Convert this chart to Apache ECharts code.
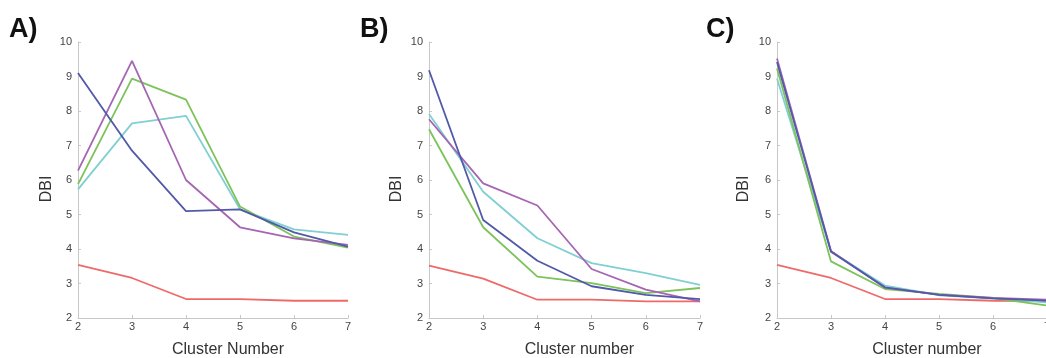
<!DOCTYPE html>
<html>
<head>
<meta charset="utf-8">
<script src="https://cdn.jsdelivr.net/npm/echarts@6/dist/echarts.min.js"></script>
<style>
	html, body { margin: 0; padding: 0; background: #fff; }
	#chart { width: 1046px; height: 358px; }
</style>
</head>
<body>
<div id="chart"></div>
<script>
// 横轴 聚类数
const clusters = [2, 3, 4, 5, 6, 7];
const yTicks = [2, 3, 4, 5, 6, 7, 8, 9, 10];

// 各面板数据
const aRed = [3.54, 3.16, 2.55, 2.55, 2.50, 2.50];
const aPurple = [6.27, 9.45, 6.00, 4.63, 4.31, 4.12];
const aGreen = [5.88, 8.94, 8.33, 5.23, 4.36, 4.04];
const aCyan = [5.73, 7.64, 7.86, 5.15, 4.57, 4.41];
const aBlue = [9.10, 6.85, 5.10, 5.15, 4.48, 4.07];

const bRed = [3.52, 3.14, 2.53, 2.53, 2.48, 2.48];
const bPurple = [7.76, 5.90, 5.26, 3.42, 2.82, 2.48];
const bGreen = [7.47, 4.63, 3.20, 3.01, 2.72, 2.87];
const bCyan = [7.91, 5.66, 4.31, 3.59, 3.30, 2.96];
const bBlue = [9.18, 4.84, 3.66, 2.92, 2.67, 2.55];

const cRed = [3.54, 3.16, 2.55, 2.55, 2.50, 2.49];
const cPurple = [9.52, 3.94, 2.88, 2.68, 2.58, 2.53];
const cGreen = [9.23, 3.64, 2.84, 2.70, 2.58, 2.36];
const cCyan = [8.94, 3.93, 2.94, 2.66, 2.57, 2.45];
const cBlue = [9.42, 3.92, 2.89, 2.67, 2.57, 2.50];

const panelLabels = ['A)', 'B)', 'C)'];
const xNames = ['Cluster Number', 'Cluster number', 'Cluster number'];

const colors = {
	red: '#ee6a68',
	purple: '#a665b3',
	green: '#7cc35a',
	cyan: '#80cfd3',
	blue: '#5159a8'
};

const panels = [
	{ red: aRed, purple: aPurple, green: aGreen, cyan: aCyan, blue: aBlue },
	{ red: bRed, purple: bPurple, green: bGreen, cyan: bCyan, blue: bBlue },
	{ red: cRed, purple: cPurple, green: cGreen, cyan: cCyan, blue: cBlue }
];

// 第三个面板右侧超出画布
const grids = [
	{ left: 78, top: 42, width: 270, height: 276 },
	{ left: 429, top: 42, width: 271, height: 276 },
	{ left: 777, top: 42, width: 270, height: 276 }
];
const labelX = [9, 360, 706];
const dbiX = [47, 397, 744];

const chart = echarts.init(document.getElementById('chart'));
const axisGray = '#c8c8c8';
const option = {
	backgroundColor: '#fff',
	animation: false,
	grid: grids.map(g => Object.assign({ containLabel: false, outerBoundsMode: 'none' }, g)),
	xAxis: grids.map((g, i) => ({
		gridIndex: i,
		type: 'value',
		min: 2,
		max: 7,
		interval: 1,
		name: xNames[i],
		nameLocation: 'middle',
		nameGap: 24,
		nameTextStyle: { fontSize: 16, color: '#333', fontFamily: 'Liberation Sans', padding: [0, 0, 0, 30] },
		axisLine: { show: true, onZero: false, lineStyle: { color: axisGray, width: 1 } },
		axisTick: { show: true, inside: true, length: 3, lineStyle: { color: axisGray } },
		axisLabel: { fontSize: 11, color: '#444', margin: 3, fontFamily: 'Liberation Sans', showMaxLabel: true },
		splitLine: { show: false }
	})),
	yAxis: grids.map((g, i) => ({
		gridIndex: i,
		type: 'value',
		min: 2,
		max: 10,
		interval: 1,
		axisLine: { show: true, onZero: false, lineStyle: { color: axisGray, width: 1 } },
		axisTick: { show: true, inside: true, length: 3, lineStyle: { color: axisGray } },
		axisLabel: { fontSize: 11, color: '#444', margin: 6, fontFamily: 'Liberation Sans' },
		splitLine: { show: false }
	})),
	graphic: [],
	series: []
};

// 面板标签 与 DBI 纵轴名
for (let i = 0; i < 3; i++) {
	option.graphic.push({
		type: 'text',
		left: labelX[i],
		top: 16,
		style: { text: panelLabels[i], font: 'bold 27px "Liberation Sans"', fill: '#111' }
	});
	option.graphic.push({
		type: 'text',
		x: dbiX[i],
		y: 189,
		rotation: Math.PI / 2,
		style: { text: 'DBI', font: '16px "Liberation Sans"', fill: '#333', align: 'center', verticalAlign: 'middle' }
	});
}

// 折线
const order = ['red', 'cyan', 'green', 'purple', 'blue'];
panels.forEach((p, i) => {
	order.forEach(key => {
		option.series.push({
			type: 'line',
			xAxisIndex: i,
			yAxisIndex: i,
			showSymbol: false,
			symbol: 'none',
			clip: true,
			lineStyle: { color: colors[key], width: 1.8 },
			data: clusters.map((c, k) => [c, p[key][k]])
		});
	});
});

chart.setOption(option);
</script>
</body>
</html>
